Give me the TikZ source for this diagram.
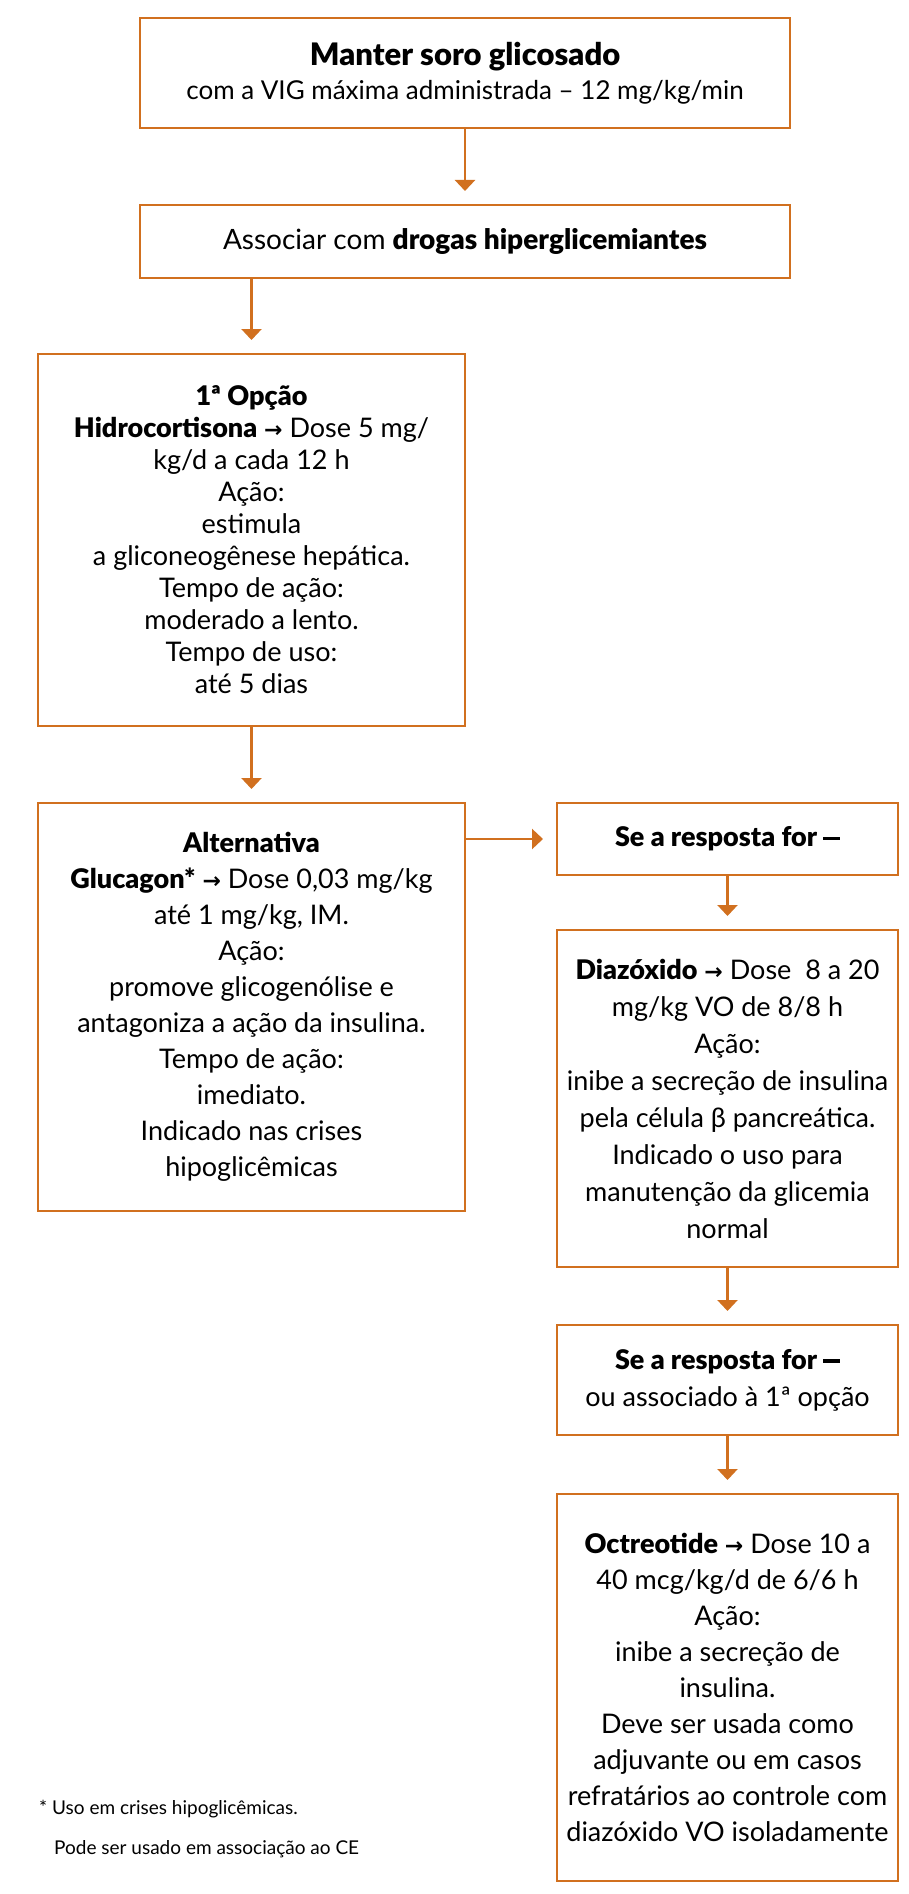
\documentclass[tikz,border=0pt]{standalone}
\usepackage{fontspec}
\setmainfont{Lato}[BoldFont={Lato Black}]
\newfontfamily\arrowfont{DejaVu Sans}
\usetikzlibrary{positioning,arrows.meta}
\definecolor{laranja}{RGB}{209,112,31}
\newcommand{\seta}{{\arrowfont\bfseries\fontsize{22}{22}\selectfont →}}
\newcommand{\traco}{\rule[0.24em]{0.62em}{0.12em}}
\begin{document}
\begin{tikzpicture}[x=1pt, y=1pt,
  box/.style = {draw=laranja, line width=2.5pt, outer sep=0pt, align=center, inner sep=0pt, minimum width=650pt, font=\fontsize{26}{34}\selectfont},
  col/.style = {draw=laranja, line width=2.5pt, outer sep=0pt, align=center, inner sep=0pt, minimum width=427pt, font=\fontsize{27}{32}\selectfont},
  side/.style = {draw=laranja, line width=2.5pt, outer sep=0pt, align=center, inner sep=0pt, minimum width=341pt, font=\fontsize{27}{36}\selectfont},
  seta/.style = {draw=laranja, line width=2.5pt, -{Triangle[width=20pt, length=11pt]}, shorten >=14pt},
  nota/.style = {align=left, anchor=north west, inner sep=0pt, font=\fontsize{19}{40}\selectfont}]
  \useasboundingbox (0,0) rectangle (908,-1894);
  \node[box, minimum height=110pt] (1) at (465,-73) {{\fontsize{31}{34}\selectfont\textbf{Manter soro glicosado}}\\com a VIG máxima administrada – 12 mg/kg/min};
  \node[box, minimum height=73pt, font=\fontsize{28}{34}\selectfont] (2) [below=77pt of 1] {Associar com \textbf{drogas hiperglicemiantes}};
  \node[col, minimum height=372pt] (3) [below=76pt of 2.south west, anchor=north west, xshift=-102pt] {\textbf{1ª Opção}\\\textbf{Hidrocortisona} \seta{} Dose 5 mg/\\kg/d a cada 12 h\\Ação:\\estimula\\a gliconeogênese hepática.\\Tempo de ação:\\moderado a lento.\\Tempo de uso:\\até 5 dias};
  \node[col, minimum height=408pt, font=\fontsize{27}{36}\selectfont] (4) [below=77pt of 3] {\textbf{Alternativa}\\\textbf{Glucagon*} \seta{} Dose 0,03 mg/kg\\até 1 mg/kg, IM.\\Ação:\\promove glicogenólise e\\antagoniza a ação da insulina.\\Tempo de ação:\\imediato.\\Indicado nas crises\\hipoglicêmicas};
  \node[side, minimum height=72pt] (5) [right=92pt of 4.north east, anchor=north west] {\textbf{Se a resposta for \traco}};
  \node[side, minimum height=337pt, font=\fontsize{27}{37}\selectfont] (6) [below=55pt of 5] {\textbf{Diazóxido} \seta{} Dose~ 8 a 20\\mg/kg VO de 8/8 h\\Ação:\\inibe a secreção de insulina\\pela célula β pancreática.\\Indicado o uso para\\manutenção da glicemia\\normal};
  \node[side, minimum height=110pt, font=\fontsize{27}{37}\selectfont] (7) [below=58pt of 6] {\textbf{Se a resposta for \traco}\\ou associado à 1ª opção};
  \node[side, minimum height=387pt] (8) [below=59pt of 7] {\textbf{Octreotide} \seta{} Dose 10 a\\40 mcg/kg/d de 6/6 h\\Ação:\\inibe a secreção de\\insulina.\\Deve ser usada como\\adjuvante ou em casos\\refratários ao controle com\\diazóxido VO isoladamente};
  \node[nota] (9) at (39,-1800) {* Uso em crises hipoglicêmicas.\\\hspace{15pt}Pode ser usado em associação ao CE};
  \draw[seta] (1) -- (2);
  \draw[seta] (2.south -| 3) -- (3);
  \draw[seta] (3) -- (4);
  \draw[seta] (4.east |- 5.west) -- (5.west);
  \draw[seta] (5) -- (6);
  \draw[seta] (6) -- (7);
  \draw[seta] (7) -- (8);
\end{tikzpicture}
\end{document}
